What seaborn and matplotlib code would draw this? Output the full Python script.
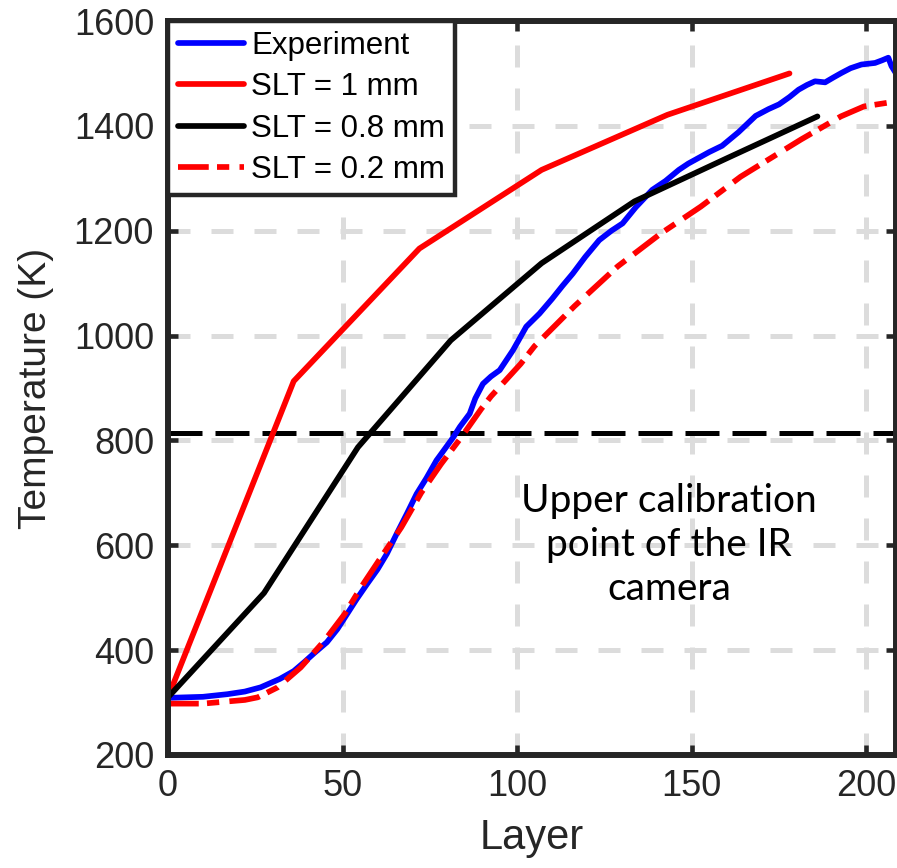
import numpy as np
import pandas as pd
import matplotlib
matplotlib.use("Agg")
import matplotlib.pyplot as plt
import seaborn as sns

# Measured surface temperature (blue trace)
exp_layer = [0, 5, 10, 17, 22, 26.5, 32, 36, 39, 42, 45.5, 48.5, 51.3, 54, 57, 60,
             62.7, 65.5, 68.4, 71.2, 74, 76.9, 78, 81.7, 83.6, 86.4, 88, 90.2, 92.5,
             95, 98.8, 102.6, 106.4, 110, 113, 115.9, 119.5, 123.5, 127, 130.2, 134,
             138.7, 142.5, 146.3, 149, 152, 155, 158.7, 163.4, 168.3, 172, 175, 178,
             180.6, 183, 185.3, 188.2, 190.5, 192.9, 195.5, 198.6, 202.5, 204.5,
             206.3, 207.2, 208.5]
exp_temp = [309, 310, 311, 316, 321, 329, 345, 360, 377, 395, 415, 440, 469, 497, 526,
            554, 584, 622, 660, 698, 728, 762, 772, 806, 826, 851, 880, 908, 922, 934,
            972, 1017, 1042, 1070, 1095, 1118, 1150, 1182, 1200, 1214, 1245, 1278,
            1295, 1316, 1328, 1339, 1350, 1362, 1388, 1419, 1432, 1441, 1455, 1469,
            1478, 1485, 1483, 1492, 1501, 1510, 1517, 1520, 1525, 1530, 1514, 1500]

# Simulations for three surface layer thicknesses (SLT)
slt1_layer = [0, 36, 72, 107, 143, 178]
slt1_temp = [310, 913, 1166, 1316, 1421, 1500]

slt08_layer = [0, 27.5, 54.4, 81, 107, 133.6, 160, 186]
slt08_temp = [310, 509, 787, 991, 1138, 1256, 1338, 1418]

slt02_layer = [0, 10, 16.8, 22, 25.7, 31.4, 38, 44.8, 50.5, 55.3, 61, 66.8, 72.5,
               78.2, 84, 89.7, 92.5, 101, 105, 116.4, 128.8, 141.2, 152.6, 164,
               181.3, 192.7, 199.3, 206]
slt02_temp = [298, 298, 302, 305, 310, 329, 367, 418, 468, 520, 577, 634, 700, 755,
              806, 860, 884, 946, 980, 1056, 1132, 1195, 1246, 1303, 1374, 1418,
              1437, 1444]

calib_temp = 815
series_names = ["Experiment", "SLT = 1 mm", "SLT = 0.8 mm", "SLT = 0.2 mm"]
note_text = "Upper calibration\npoint of the IR\ncamera"

x_ticks = [0, 50, 100, 150, 200]
y_ticks = [200, 400, 600, 800, 1000, 1200, 1400, 1600]

sns.set_theme(style="white")
plt.rcParams["font.family"] = ["Liberation Sans", "DejaVu Sans"]

W, H = 897, 868
fig = plt.figure(figsize=(W / 100, H / 100), dpi=100)
ax = fig.add_axes([168 / W, (H - 755) / H, (896 - 168) / W, (755 - 21) / H])

lw = 4.1
frames = [
    (exp_layer, exp_temp, series_names[0], (0, 0, 1), "-"),
    (slt1_layer, slt1_temp, series_names[1], (1, 0, 0), "-"),
    (slt08_layer, slt08_temp, series_names[2], (0, 0, 0), "-"),
    (slt02_layer, slt02_temp, series_names[3], (1, 0, 0), (0, (5.4, 1.45, 2.15, 1.8))),
]
for xs, ys, name, color, ls in frames:
    df = pd.DataFrame({"Layer": xs, "T": ys})
    sns.lineplot(data=df, x="Layer", y="T", ax=ax, sort=False, estimator=None,
                 color=color, linewidth=lw, label=name, linestyle=ls, zorder=3)

# Calibration limit of the IR camera
ax.axhline(calib_temp, color="black", linewidth=3.6, linestyle=(0, (6.8, 2.6)), zorder=2.5)
ax.text(143.5, 600, note_text, ha="center", va="center", fontsize=28,
        family=["Lato", "DejaVu Sans"], linespacing=1.27, color="black", zorder=4)

ax.set_xlim(0, 208.5)
ax.set_ylim(200, 1600)
ax.set_xticks(x_ticks)
ax.set_yticks(y_ticks)
ax.set_xticklabels([str(v) for v in x_ticks])
ax.set_yticklabels([str(v) for v in y_ticks])

ax.grid(True, color="#dcdcdc", linewidth=3.6, linestyle=(0, (4.4, 4.2)), zorder=1)
ax.set_axisbelow(True)

spine_color = "#262626"
for s in ax.spines.values():
    s.set_visible(True)
    s.set_color(spine_color)
    s.set_linewidth(4.3)
    s.set_zorder(5)

ax.tick_params(axis="both", which="major", direction="in", length=7, width=3.3,
               color=spine_color, labelcolor=spine_color, labelsize=26, pad=10,
               top=True, right=True, bottom=True, left=True)

ax.set_xlabel("Layer", fontsize=30, color=spine_color, labelpad=10)
ax.set_ylabel("Temperature (K)", fontsize=28, color=spine_color, labelpad=14)

leg = ax.legend(loc="upper left", bbox_to_anchor=(0, 1), borderaxespad=0,
                fontsize=22.5, handlelength=2.1, handletextpad=0.25,
                labelspacing=0.36, borderpad=0.32, fancybox=False, framealpha=1)
leg.get_frame().set_edgecolor(spine_color)
leg.get_frame().set_linewidth(3.2)
leg.set_zorder(6)
for t in leg.get_texts():
    t.set_color("black")

fig.savefig("out.png", dpi=100)
